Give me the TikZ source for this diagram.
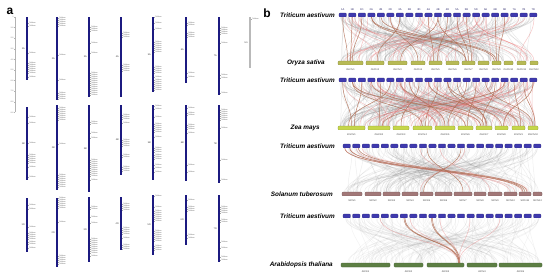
\documentclass[tikz,border=0pt]{standalone}
\usepackage{fontspec}
\setmainfont{Liberation Sans}
\usetikzlibrary{calc}
\pgfdeclarelayer{bg}
\pgfdeclarelayer{paper}
\pgfsetlayers{paper,bg,main}
\definecolor{chrnavy}{HTML}{1C1A80}
\definecolor{tablue}{HTML}{3F3AAE}
\definecolor{osyel}{HTML}{B7BA55}
\definecolor{zmyel}{HTML}{C5D64A}
\definecolor{stbrown}{HTML}{A27878}
\definecolor{atgreen}{HTML}{5D7F44}
\definecolor{linkbrown}{HTML}{B06C52}
\definecolor{linkred}{HTML}{E86A6A}
\tikzset{
  chrom/.style={fill=chrnavy, minimum width=2.3pt, inner sep=0pt, outer sep=0pt},
  unchrom/.style={fill=gray!55, minimum width=2pt, inner sep=0pt, outer sep=0pt},
  genelab/.style={font=\fontsize{1.8}{2}\selectfont, text=gray!70!black, anchor=west, inner sep=0pt},
  genetick/.style={draw=gray!70, line width=0.15pt},
  chrname/.style={font=\fontsize{2.4}{3}\selectfont, text=black!75, anchor=east, inner sep=0pt},
  rulerlab/.style={font=\fontsize{1.8}{2}\selectfont, text=gray, anchor=east, inner sep=0pt},
  panellab/.style={font=\fontsize{12}{13}\selectfont\bfseries, inner sep=0pt},
  species/.style={font=\fontsize{6.4}{7}\selectfont\bfseries\itshape, anchor=east, inner sep=0pt},
  bar/.style={minimum height=3.8pt, inner sep=0pt, outer sep=0pt, rounded corners=0.8pt, draw=#1!70!black, line width=0.2pt, fill=#1},
  barlab/.style={font=\fontsize{2.4}{3}\selectfont, text=black!75, inner sep=0pt},
  talab/.style={font=\fontsize{2.6}{3}\selectfont, text=tablue!60!black, inner sep=0pt},
  graylink/.style={draw=gray, opacity=0.14, line width=0.5pt},
  redlink/.style={draw=linkred, opacity=0.38, line width=0.5pt},
  brownlink/.style={draw=linkbrown, opacity=0.85, line width=0.5pt},
}
\newcommand\mkchr[7]{%
  \node[#7, minimum height={(#4)-(#3)}] (#1) at (#2,{((#3)+(#4))/2}) {};
  \node[chrname] (#1-n) at ({#2-2},{((#3)+(#4))/2}) {#5};
  \foreach \g [count=\k] in {#6} {
    \draw[genetick] ({#2+1.15},\g) -- ++(1.2,0) node[genelab] (#1-g\k) {TaGene};
  }%
}
\begin{document}
\begin{tikzpicture}[x=1pt,y=-1pt]
\begin{pgfonlayer}{paper}
\fill[white] (0,0) rectangle (550,278);
\end{pgfonlayer}
\useasboundingbox (0,0) rectangle (550,278);
% ---------------- panel a ----------------
\node[panellab] (pa) at (10,11) {a};
\draw[gray!60, line width=0.3pt] (15,17) -- (15,112);
\foreach \k in {0,...,9} {
  \pgfmathtruncatemacro\mb{\k*100}
  \draw[gray!60, line width=0.2pt] (15,{17+10.6*\k}) -- ++(-1.2,0) node[rulerlab] (rl\k) {\mb};
}
% A genome
\mkchr{c1A}{27}{17}{80}{1A}{23,26,53,63,65,67,69,71,73,77}{chrom}
\mkchr{c2A}{57}{17}{100}{2A}{18,20,22,24,26,55,80,93,95,97,99}{chrom}
\mkchr{c3A}{89}{17}{97}{3A}{27,29,31,43,53,73,75,77,79,81,83,85,87,89,91,93,95}{chrom}
\mkchr{c4A}{121}{17}{97}{4A}{33,35,37,65,67,69,71}{chrom}
\mkchr{c5A}{153}{17}{92}{5A}{17,23,29,42,44,46,48,50,52,67,69,71,73,77,80,82,84,86,88,90}{chrom}
\mkchr{c6A}{186}{17}{83}{6A}{23,25,33,35,37,73,77}{chrom}
\mkchr{c7A}{219}{17}{95}{7A}{28,30,32,34,43,75,78,93}{chrom}
\mkchr{cUn}{250}{17}{68}{Un}{19}{unchrom}
% B genome
\mkchr{c1B}{27}{107}{180}{1B}{117,123,143,155,157,159,161,163,167,177}{chrom}
\mkchr{c2B}{57}{105}{190}{2B}{108,110,112,114,116,118,120,144,175,177,179,181,183,185,187}{chrom}
\mkchr{c3B}{89}{105}{192}{3B}{122,124,133,138,160,162,164,166,168,170,172,174,176,180}{chrom}
\mkchr{c4B}{121}{105}{175}{4B}{115,117,119,123,140,142,144,146,155,157,167,169,171}{chrom}
\mkchr{c5B}{153}{105}{180}{5B}{106,109,117,124,126,128,130,132,137,148,150,152,155,157,159,165,168,172}{chrom}
\mkchr{c6B}{186}{105}{181}{6B}{108,113,115,125,127,129,133,165,172}{chrom}
\mkchr{c7B}{219}{105}{183}{7B}{110,112,114,116,118,120,128,160,180}{chrom}
% D genome
\mkchr{c1D}{27}{198}{252}{1D}{205,209,227,233,235,237,239,242,244,248}{chrom}
\mkchr{c2D}{57}{198}{267}{2D}{198,200,202,204,206,208,222,256,258,260,262,264}{chrom}
\mkchr{c3D}{89}{197}{262}{3D}{207,209,217,223,239,241,243,245,247,249,251,253,256}{chrom}
\mkchr{c4D}{121}{197}{250}{4D}{204,206,208,210,228,230,232,234,238,245,247,249}{chrom}
\mkchr{c5D}{153}{195}{255}{5D}{196,207,211,213,215,217,219,221,231,233,235,237,239,241,246,248,250}{chrom}
\mkchr{c6D}{186}{195}{245}{6D}{200,207,209,211,235,238}{chrom}
\mkchr{c7D}{219}{195}{262}{7D}{207,209,211,213,220,222,242,248,257,260}{chrom}
% ---------------- panel b ----------------
\node[panellab] (pb) at (267,13) {b};
\node[species] (sp1) at (335,15) {Triticum aestivum};
\node[species] (sp2) at (325,63) {Oryza sativa};
\node[species] (sp3) at (335,80) {Triticum aestivum};
\node[species] (sp4) at (320,128) {Zea mays};
\node[species] (sp5) at (335,146) {Triticum aestivum};
\node[species] (sp6) at (333,194) {Solanum tuberosum};
\node[species] (sp7) at (335,216) {Triticum aestivum};
\node[species] (sp8) at (333,265) {Arabidopsis thaliana};
% wheat rows
\foreach \r/\y/\xs in {1/15/338, 2/80/338, 3/146/342, 4/216/342} {
  \foreach \n [count=\i] in {1A,1B,1D,2A,2B,2D,3A,3B,3D,4A,4B,4D,5A,5B,5D,6A,6B,6D,7A,7B,7D} {
    \node[bar=tablue, minimum width=7.4pt] (ta\r-\i) at ({\xs+(\i-0.5)*200/21},\y) {};
    \ifnum\r=1 \node[talab] (tl-\i) at ({\xs+(\i-0.5)*200/21},9.5) {\n};\fi
  }
}
% rice
\foreach \a/\b [count=\i] in {338/363,366/384,388/407,411/425,429/442,446/459,462/475,478/489,492/501,504/513,517/526,530/538} {
  \node[bar=osyel, minimum width={\b-\a}] (os-\i) at ({(\a+\b)/2},63) {};
  \node[barlab] (osl-\i) at ({(\a+\b)/2},69.5) {OsChr\i};
}
% maize
\foreach \a/\b [count=\i] in {338/365,368/390,393/409,413/432,435/455,458/473,476/492,495/508,512/525,528/538} {
  \node[bar=zmyel, minimum width={\b-\a}] (zm-\i) at ({(\a+\b)/2},128) {};
  \node[barlab] (zml-\i) at ({(\a+\b)/2},134.5) {ZmChr\i};
}
% potato
\foreach \a/\b [count=\i] in {342/362,365/381,383/400,402/418,420/433,435/452,454/472,474/486,488/502,504/517,519/531,533/542} {
  \node[bar=stbrown, minimum width={\b-\a}] (st-\i) at ({(\a+\b)/2},194) {};
  \node[barlab] (stl-\i) at ({(\a+\b)/2},200.5) {StChr\i};
}
% arabidopsis
\foreach \a/\b [count=\i] in {341/390,394/423,427/464,467/497,499/542} {
  \node[bar=atgreen, minimum width={\b-\a}, minimum height=4pt] (at-\i) at ({(\a+\b)/2},265) {};
  \node[barlab] (atl-\i) at ({(\a+\b)/2},271.5) {AtChr\i};
}
% ---------------- links ----------------
\begin{pgfonlayer}{bg}
\pgfmathsetseed{11}
\foreach \ya/\yb/\xl/\n/\op in {16.8/61.2/338/180/0.17, 81.8/126.2/338/220/0.17, 147.8/192.2/342/170/0.13, 217.8/263/342/140/0.09} {
  \foreach \k in {1,...,\n} {
    \pgfmathsetmacro\xa{\xl+2+196*rnd}
    \pgfmathsetmacro\xb{\xl+2+196*rnd}
    \pgfmathsetmacro\ym{(\ya+\yb)/2}
    \draw[graylink, opacity=\op] (\xa,\ya) .. controls (\xa,\ym) and (\xb,\ym) .. (\xb,\yb);
  }
}
\foreach \ya/\yb/\xl/\n in {16.8/61.2/338/30, 81.8/126.2/338/50} {
  \foreach \k in {1,...,\n} {
    \pgfmathsetmacro\xa{\xl+2+196*rnd}
    \pgfmathsetmacro\xb{\xl+2+196*rnd}
    \pgfmathsetmacro\ym{(\ya+\yb)/2}
    \draw[redlink] (\xa,\ya) .. controls (\xa,\ym) and (\xb,\ym) .. (\xb,\yb);
  }
}
\foreach \a/\b in {345/515,350/522,356/510,362/528,420/470,465/420,440/490} {
  \draw[redlink] (\a,147.8) .. controls (\a,170) and (\b,170) .. (\b,192.2);
}
\foreach \a in {380,410,440,470,500} {
  \draw[redlink] (\a,217.8) .. controls (\a,240) and (459,240) .. (459,263);
}
% brown links rice
\foreach \a/\b/\s in {1/1/-3,2/1/0,3/1/2,4/7/-2,5/9/0,6/4/0,7/2/2,10/5/-2,11/7/-3,11/3/3,12/5/2,13/7/0,14/7/3,17/9/0,18/9/2,4/9/-2} {
  \draw[brownlink] (ta1-\a.south) .. controls +(0,22) and +(0,-22) .. ([xshift=\s pt]os-\b.north);
}
% brown links maize
\foreach \a/\b/\s in {1/1/0,2/4/0,3/1/3,4/6/0,5/2/0,6/1/-3,7/7/0,8/5/0,9/3/0,10/8/0,11/4/3,12/9/0,13/7/2,14/5/3,15/6/2,16/10/0,17/7/-2,18/2/3,19/9/2,20/10/2,21/8/2,2/7/-3,12/7/3} {
  \draw[brownlink] (ta2-\a.south) .. controls +(0,22) and +(0,-22) .. ([xshift=\s pt]zm-\b.north);
}
% brown links potato
\foreach \a/\as/\b/\s in {1/-2/11/-2,1/3/11/0,2/2/11/2,9/4/7/0,13/0/5/-3} {
  \draw[brownlink] ([xshift=\as pt]ta3-\a.south) .. controls +(0,22) and +(0,-22) .. ([xshift=\s pt]st-\b.north);
}
% brown links arabidopsis
\foreach \a/\as/\s in {7/0/13,7/1/14,10/-1/13.5,10/0/14.5} {
  \draw[brownlink] ([xshift=\as pt]ta4-\a.south) .. controls +(0,23) and +(0,-23) .. ([xshift=\s pt]at-3.north);
}
\end{pgfonlayer}
\end{tikzpicture}
\end{document}
